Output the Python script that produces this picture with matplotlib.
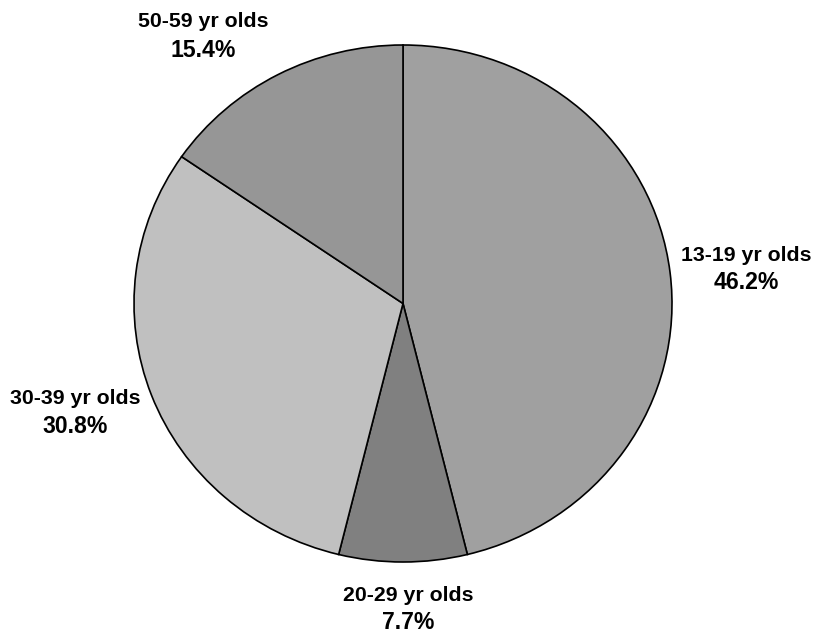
import matplotlib.pyplot as plt

# Age groups and shares (%)
groups = ['13-19 yr olds', '20-29 yr olds', '30-39 yr olds', '50-59 yr olds']
shares = [46.2, 7.7, 30.8, 15.4]
colors = ['#a0a0a0', '#808080', '#c0c0c0', '#969696']

# label anchor points (data coords of the pie axes, x, name baseline, pct baseline)
label_x = [1.275, 0.019, -1.219, -0.743]
name_y = [0.164, -1.151, -0.389, 1.070]
pct_y = [0.056, -1.259, -0.501, 0.954]

W, H = 814, 631
fig = plt.figure(figsize=(W / 100, H / 100), dpi=100)
# pie is slightly wider than tall in the reference
ax = fig.add_axes([134 / W, (H - 562) / H, 538 / W, 517 / H])

ax.pie(shares, colors=colors, startangle=90, counterclock=False,
       wedgeprops=dict(edgecolor='black', linewidth=1.2))
ax.set_aspect('auto')
ax.set_xlim(-1, 1)
ax.set_ylim(-1, 1)
ax.axis('off')

for g, s, x, y1, y2 in zip(groups, shares, label_x, name_y, pct_y):
    ax.text(x, y1, g, ha='center', va='baseline', fontsize=15.3,
            fontweight='bold', family='Liberation Sans', clip_on=False)
    ax.text(x, y2, f'{s:.1f}%', ha='center', va='baseline', fontsize=16.6,
            fontweight='bold', family='Liberation Sans', clip_on=False)

fig.savefig('out.png', dpi=100, facecolor='white')
